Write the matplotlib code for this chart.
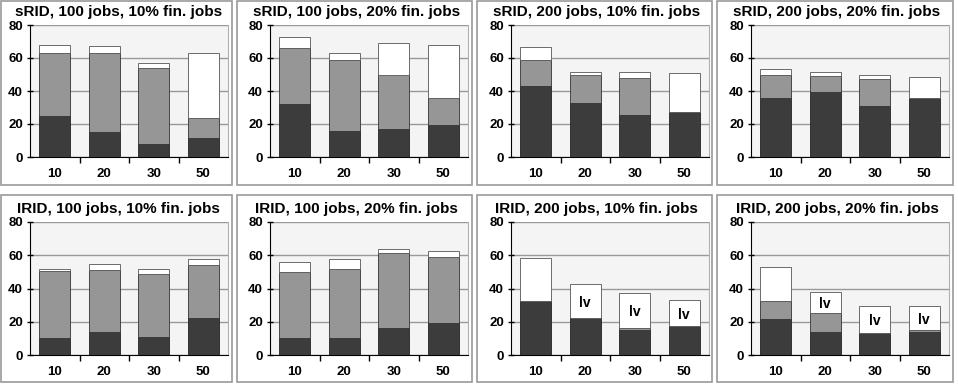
import matplotlib
matplotlib.use("Agg")
import matplotlib.pyplot as plt
from matplotlib.patches import Rectangle
import numpy as np

plt.rcParams['font.family'] = ['Liberation Sans', 'DejaVu Sans']
plt.rcParams['font.weight'] = 'bold'

categorias = ['10', '20', '30', '50']

titulos = [
    'sRID, 100 jobs, 10% fin. jobs', 'sRID, 100 jobs, 20% fin. jobs',
    'sRID, 200 jobs, 10% fin. jobs', 'sRID, 200 jobs, 20% fin. jobs',
    'IRID, 100 jobs, 10% fin. jobs', 'IRID, 100 jobs, 20% fin. jobs',
    'IRID, 200 jobs, 10% fin. jobs', 'IRID, 200 jobs, 20% fin. jobs',
]

# segmento oscuro (abajo)
oscuro = [
    [25, 15, 8, 11.5],
    [32, 16, 17, 19.5],
    [43, 33, 25.5, 27],
    [36, 39.5, 31, 35.5],
    [10, 14, 11, 22],
    [10, 10.5, 16, 19.5],
    [32.5, 22, 15, 17.5],
    [21.5, 14, 13, 14],
]
# segmento gris (medio)
gris = [
    [38, 48, 46, 12],
    [34, 43, 33, 16],
    [16, 17, 22.5, 0.5],
    [14, 9.5, 16.5, 0],
    [40.5, 37, 37.5, 32],
    [40, 41.5, 45.5, 39.5],
    [0, 0, 1, 0],
    [11, 11, 0, 1],
]
# segmento blanco (arriba)
blanco = [
    [5, 4, 3, 39.5],
    [6.5, 4, 19, 32.5],
    [7.5, 1.5, 3.5, 23.5],
    [3.5, 2.5, 2, 13],
    [1, 4, 3.5, 4],
    [6, 6, 2.5, 3.5],
    [26, 21, 21.5, 15.5],
    [20.5, 13, 16.5, 14.5],
]
# etiquetas dentro de la parte blanca
etiquetas = [
    ['', '', '', ''], ['', '', '', ''], ['', '', '', ''], ['', '', '', ''],
    ['', '', '', ''], ['', '', '', ''],
    ['', 'lv', 'lv', 'lv'],
    ['', 'lv', 'lv', 'lv'],
]

W, H = 958, 388
fig = plt.figure(figsize=(W / 100, H / 100), dpi=100)

izq_ejes = [30, 270, 511, 751]
ancho_eje = 198
filas = [(25, 157), (222, 355)]
cajas_x = [(1, 232), (237, 472), (477, 712), (717, 953)]
cajas_y = [(1, 185), (195, 382)]

for i in range(8):
    fila, col = divmod(i, 4)
    # caja del panel
    bx0, bx1 = cajas_x[col]
    by0, by1 = cajas_y[fila]
    fig.patches.append(Rectangle((bx0 / W, 1 - by1 / H), (bx1 - bx0) / W, (by1 - by0) / H,
                                 transform=fig.transFigure, fill=False,
                                 edgecolor='#9a9a9a', linewidth=1.2))
    fig.text((bx0 + bx1) / 2 / W + 2 / W, 1 - (fila * 197 + 12) / H, titulos[i],
             ha='center', va='center', fontsize=11, fontweight='bold')

    top, bot = filas[fila]
    ax = fig.add_axes([izq_ejes[col] / W, 1 - bot / H, ancho_eje / W, (bot - top) / H])
    ax.set_facecolor('#f4f4f4')
    x = np.arange(4)
    d = np.array(oscuro[i])
    g = np.array(gris[i])
    b = np.array(blanco[i])
    ax.bar(x, d, width=0.62, color='#3c3c3c', edgecolor='#222222', linewidth=0.6, zorder=3)
    ax.bar(x, g, width=0.62, bottom=d, color='#969696', edgecolor='#333333', linewidth=0.6, zorder=3)
    ax.bar(x, b, width=0.62, bottom=d + g, color='white', edgecolor='#555555', linewidth=0.6, zorder=3)
    for k, txt in enumerate(etiquetas[i]):
        if txt:
            ax.text(x[k], d[k] + g[k] + b[k] / 2 - 1, txt, ha='center', va='center',
                    fontsize=10, fontweight='bold', zorder=4)

    ax.set_xlim(-0.5, 3.5)
    ax.set_ylim(0, 80)
    ax.set_yticks([0, 20, 40, 60, 80])
    ax.yaxis.grid(True, color='#999999', linewidth=1.0, zorder=0)
    ax.set_xticks(x)
    ax.set_xticklabels(categorias)
    ax.set_xticks([0.5, 1.5, 2.5], minor=True)
    ax.tick_params(axis='x', which='major', length=0, pad=8, labelsize=9.5)
    ax.tick_params(axis='x', which='minor', length=4, direction='out', width=1)
    ax.tick_params(axis='y', length=4, direction='inout', width=1, labelsize=9.5, pad=3)
    for lab in ax.get_xticklabels() + ax.get_yticklabels():
        lab.set_fontweight('bold')
    ax.spines['left'].set_color('black')
    ax.spines['bottom'].set_color('black')
    ax.spines['top'].set_visible(False)
    ax.spines['right'].set_color('#b0b0b0')
    ax.spines['right'].set_linewidth(0.8)

fig.savefig('out.png', dpi=100)
